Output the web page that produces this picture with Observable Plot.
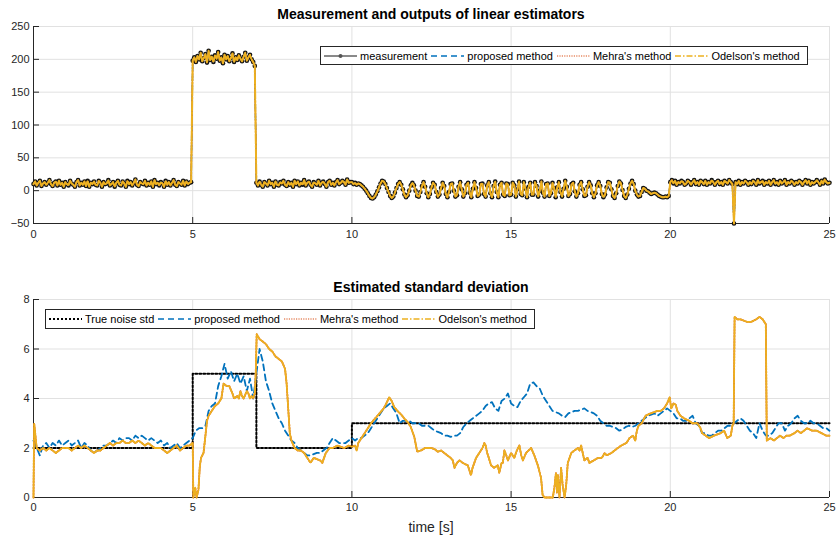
<!DOCTYPE html>
<html><head><meta charset="utf-8">
<script src="https://cdn.jsdelivr.net/npm/d3@7"></script>
<script src="https://cdn.jsdelivr.net/npm/@observablehq/plot@0.6"></script>
<style>
body{margin:0;background:#fff;font-family:"Liberation Sans",Arial,Helvetica,sans-serif;}
#wrap{position:relative;width:836px;height:535px;overflow:hidden;background:#fff;}
.panel{position:absolute;left:0;}
.title{position:absolute;left:33px;width:796px;text-align:center;font-weight:bold;font-size:14px;color:#000;line-height:16px;}
.xlabel{position:absolute;left:33px;width:796px;text-align:center;font-size:14px;color:#262626;line-height:16px;}
.legend{position:absolute;display:flex;align-items:center;border:1px solid #262626;background:#fff;font-size:11px;color:#000;padding:0 4px 0 2px;box-sizing:border-box;white-space:nowrap;}
.legend svg{display:block;margin-right:2px;}
.legend span{margin-right:3px;}
</style></head><body><div id="wrap"></div>
<script>
// ---------------- DATA ----------------
// top panel: measurement sampled every 0.05 s from 0 to 25 s
const measurementStep = 0.05;
const measurement = [
10,14,8,12,15,7,11,13,9,12,
16,10,7,12,14,8,15,9,12,6,
13,10,8,15,11,9,6,13,16,8,
12,9,14,7,15,6,12,10,14,9,
8,15,12,6,13,10,11,16,8,10,
13,6,12,15,9,8,14,11,6,15,
10,13,8,12,17,9,7,13,11,10,
15,8,12,9,14,6,16,10,12,8,
13,11,6,15,9,13,8,12,16,9,
7,13,11,9,15,8,14,10,12,13,
198,203,196,205,200,210,197,202,208,195,
213,199,204,196,206,201,211,198,203,194,
207,200,205,197,202,209,196,203,199,206,
201,197,204,210,198,203,207,200,196,190,
12,8,14,9,6,13,11,8,15,10,
12,6,14,9,8,13,11,15,9,7,
13,9,12,6,15,10,14,8,12,9,
16,8,12,14,9,6,13,11,9,15,
8,12,14,10,6,13,15,9,12,8,
13,16,10,12,15,13,9,17,12,13,
13,10,12,9,11,10,8,6,3,0,
-4,-8,-11,-12,-10,-6,-1,5,11,15,
14,10,4,-2,-8,-11,-9,-3,4,10,
13,9,2,-6,-10,-7,0,8,12,8,
0,-8,-9,-2,7,13,6,-4,-10,-5,
5,12,9,-2,-9,-6,4,12,7,-5,
-10,-2,10,11,0,-9,-7,6,13,2,
-9,-4,9,12,-3,-10,3,13,4,-8,
-6,10,11,-5,-9,8,13,-4,-10,7,
14,-2,-10,9,12,-6,-8,11,10,-7,
-6,12,8,-9,2,14,-5,-7,13,3,
-10,6,12,-6,-6,13,7,-9,0,14,
-3,-9,10,11,-8,-4,12,4,-10,5,
13,-2,-9,3,15,6,-8,-5,10,12,
-1,-9,-4,9,13,2,-8,-7,6,13,
8,-4,-10,-4,8,13,7,-5,-10,-6,
5,13,12,2,-8,-11,-4,7,14,11,
1,-8,-11,-6,3,11,15,10,0,-6,
-9,-8,-2,4,3,0,-1,-3,-5,-4,
-3,-4,-6,-8,-9,-10,-10,-9,-10,-8,
13,16,11,15,9,13,11,15,13,9,
11,15,13,9,13,16,10,13,9,15,
13,10,15,9,13,11,16,13,9,13,
15,10,13,9,15,13,11,16,13,10,
-50,13,10,15,9,13,11,15,13,9,
13,10,15,13,9,16,11,13,15,9,
13,11,15,9,13,16,10,13,9,15,
11,13,16,9,13,11,15,13,9,13,
11,15,13,9,13,16,11,15,9,13,
11,13,16,13,9,15,11,17,13,11,
12
];
// estimator outputs overlap the measurement in the picture
const proposedOutput = measurement;
const mehraOutput = measurement;
const odelsonOutput = measurement;

// bottom panel
const trueStdTime = [0, 5, 7, 10, 25];
const trueStd = [2, 5, 2, 3, 3];

// proposed method estimate, every 0.1 s from 0 to 25 s
const proposedStep = 0.1;
const proposedStd = [
2.3,2.0,1.7,2.1,2.2,2.0,2.2,2.1,2.3,2.1,
2.2,2.3,2.1,2.2,2.3,2.0,2.2,2.1,1.9,1.8,
1.9,2.0,2.1,2.1,2.2,2.3,2.2,2.4,2.3,2.4,
2.4,2.3,2.5,2.4,2.5,2.4,2.3,2.4,2.3,2.2,
2.3,2.1,2.2,2.0,2.1,2.2,2.0,2.1,2.2,2.3,
2.4,2.7,2.8,2.8,2.9,3.5,3.7,3.8,4.5,4.9,
5.4,4.8,5.1,4.7,5.0,4.6,4.9,4.3,4.8,4.0,
5.0,6.0,5.5,4.7,4.3,3.8,3.5,3.2,3.0,2.7,
2.5,2.3,2.2,2.0,1.9,1.8,1.7,1.7,1.75,1.8,
1.8,1.9,2.0,2.2,2.4,2.3,2.2,2.2,2.2,2.3,
2.4,2.3,2.4,2.4,2.5,2.6,2.8,3.0,3.2,3.4,
3.6,3.7,3.8,3.6,3.4,3.0,3.1,3.1,3.1,3.0,
3.0,3.0,2.9,2.9,2.9,2.8,2.7,2.65,2.6,2.5,
2.5,2.45,2.5,2.5,2.6,2.85,3.0,3.1,3.2,3.3,
3.4,3.5,3.7,3.8,3.85,3.6,3.5,3.9,4.0,4.2,
3.8,3.7,3.65,3.9,4.05,4.2,4.6,4.65,4.5,4.4,
4.1,3.9,3.7,3.5,3.45,3.4,3.3,3.25,3.4,3.45,
3.5,3.5,3.55,3.6,3.5,3.45,3.4,3.3,3.1,3.0,
2.9,2.9,2.85,2.8,2.7,2.75,2.85,2.9,2.85,2.9,
3.0,3.1,3.2,3.3,3.35,3.4,3.3,3.4,3.5,3.6,
3.5,3.4,3.2,3.2,3.1,3.1,3.2,3.3,3.0,2.9,
2.6,2.6,2.5,2.5,2.6,2.7,2.7,2.8,2.9,2.9,
3.0,3.1,3.2,3.1,2.9,2.7,2.6,2.4,3.0,2.7,
2.5,2.5,2.6,2.8,3.0,3.0,2.7,2.9,3.0,3.2,
3.3,3.1,3.0,3.0,3.1,3.0,3.0,2.9,2.8,2.8,
2.7
];

// Odelson's method estimate [time, value]
const odelsonStd = [
[0,0],[0.02,3.0],[0.1,2.0],[0.2,1.9],[0.3,2.0],[0.4,1.9],[0.5,2.0],[0.6,1.9],[0.7,1.8],[0.8,1.9],[0.9,2.0],
[1.0,2.0],[1.1,2.0],[1.2,1.9],[1.3,2.0],[1.4,2.1],[1.5,2.0],[1.6,2.1],[1.7,2.0],[1.8,1.9],[1.9,1.8],
[2.0,1.9],[2.1,1.9],[2.2,2.0],[2.3,2.1],[2.4,2.2],[2.5,2.1],[2.6,2.2],[2.7,2.2],[2.8,2.3],[2.9,2.2],
[3.0,2.2],[3.1,2.3],[3.2,2.2],[3.3,2.3],[3.4,2.2],[3.5,2.1],[3.6,2.2],[3.7,2.1],[3.8,2.0],[3.9,2.0],
[4.0,2.0],[4.1,1.9],[4.2,1.8],[4.3,1.9],[4.4,2.0],[4.5,2.1],[4.6,1.9],[4.7,2.0],[4.8,2.1],[4.9,2.1],
[5.0,2.2],[5.02,0],[5.08,0.4],[5.12,0],[5.18,0.3],[5.22,1.2],[5.26,1.6],[5.34,1.8],[5.4,2.5],[5.45,3.1],
[5.5,3.3],[5.6,3.5],[5.7,3.7],[5.8,3.8],[5.9,4.0],[5.97,4.6],[6.07,4.5],[6.15,4.5],[6.25,4.2],[6.3,4.0],
[6.4,4.1],[6.45,4.0],[6.5,4.3],[6.55,4.1],[6.6,4.0],[6.7,4.3],[6.75,4.2],[6.8,4.0],[6.85,4.1],[6.9,4.0],
[6.95,4.2],[6.98,5.0],[7.01,6.6],[7.1,6.4],[7.2,6.3],[7.3,6.2],[7.4,6.0],[7.5,5.9],[7.6,5.7],[7.7,5.6],
[7.8,5.5],[7.9,5.2],[7.95,4.6],[8.0,3.6],[8.05,2.6],[8.1,2.3],[8.2,2.0],[8.3,1.9],[8.4,1.9],[8.5,1.8],
[8.6,1.6],[8.7,1.4],[8.8,1.6],[8.9,1.55],[9.0,1.5],[9.07,1.4],[9.18,1.8],[9.3,2.0],[9.4,2.0],[9.55,2.1],
[9.65,2.05],[9.76,2.0],[9.9,2.1],[10.0,2.05],[10.1,2.1],[10.15,1.9],[10.2,2.2],[10.3,2.4],[10.4,2.6],[10.5,2.8],
[10.6,3.0],[10.7,3.15],[10.8,3.3],[10.9,3.45],[11.0,3.6],[11.1,3.85],[11.17,4.05],[11.25,3.9],[11.33,3.65],[11.43,3.5],
[11.55,3.35],[11.64,3.2],[11.75,3.05],[11.85,2.85],[11.96,2.45],[12.05,1.85],[12.17,1.9],[12.3,2.0],[12.4,2.0],[12.5,2.0],
[12.6,1.95],[12.7,1.85],[12.8,1.9],[12.9,1.8],[13.0,1.7],[13.1,1.6],[13.17,1.5],[13.22,1.2],[13.3,1.4],[13.38,1.5],
[13.48,1.4],[13.55,1.35],[13.64,1.3],[13.74,0.9],[13.79,1.2],[13.9,1.6],[14.0,1.8],[14.1,2.0],[14.16,2.2],[14.2,2.1],
[14.25,1.8],[14.3,1.6],[14.37,1.3],[14.47,1.2],[14.58,1.3],[14.63,1.0],[14.7,1.4],[14.74,1.4],[14.79,1.9],[14.85,1.7],
[14.9,1.5],[15.0,1.8],[15.1,1.6],[15.18,1.9],[15.26,2.1],[15.32,1.7],[15.37,1.5],[15.47,1.8],[15.55,1.9],[15.63,2.0],
[15.73,1.7],[15.84,1.3],[15.94,0.8],[15.99,0.1],[16.05,0],[16.15,0],[16.31,0],[16.36,0.4],[16.41,1.0],[16.44,0.2],
[16.47,0.9],[16.52,0],[16.57,1.2],[16.62,0.5],[16.68,0],[16.73,0.5],[16.78,1.4],[16.89,1.8],[16.99,1.9],[17.1,2.0],
[17.15,1.9],[17.2,2.1],[17.25,1.8],[17.3,1.5],[17.4,1.6],[17.46,1.4],[17.6,1.5],[17.73,1.6],[17.85,1.6],[17.94,1.8],
[18.0,1.7],[18.15,1.8],[18.25,1.9],[18.35,2.0],[18.46,2.1],[18.62,2.2],[18.72,2.4],[18.83,2.5],[18.9,2.3],[18.95,2.7],
[19.0,2.9],[19.1,3.0],[19.22,3.3],[19.38,3.4],[19.5,3.45],[19.59,3.5],[19.7,3.5],[19.8,3.6],[19.9,3.8],[19.98,4.05],
[20.03,3.6],[20.1,3.8],[20.17,3.75],[20.22,3.5],[20.32,3.3],[20.43,3.2],[20.59,3.1],[20.69,3.0],[20.85,3.0],[20.95,2.8],
[21.0,2.6],[21.11,2.5],[21.22,2.4],[21.37,2.5],[21.58,2.6],[21.69,2.7],[21.79,2.4],[21.9,2.5],[21.95,2.9],[21.99,3.0],
[22.02,7.3],[22.1,7.2],[22.2,7.2],[22.4,7.1],[22.55,7.1],[22.7,7.2],[22.8,7.3],[22.9,7.2],[23.0,7.0],[23.03,2.3],
[23.15,2.4],[23.25,2.3],[23.35,2.4],[23.45,2.5],[23.55,2.4],[23.65,2.5],[23.75,2.5],[23.9,2.6],[24.0,2.7],[24.1,2.6],
[24.3,2.8],[24.45,2.7],[24.6,2.7],[24.75,2.6],[24.9,2.5],[25.0,2.5]
];
// Mehra's method coincides with Odelson's in the picture
const mehraStd = odelsonStd;

// ticks, labels
const xTicks = [0, 5, 10, 15, 20, 25];
const yTicksTop = [-50, 0, 50, 100, 150, 200, 250];
const yTicksBottom = [0, 2, 4, 6, 8];
const titleTop = "Measurement and outputs of linear estimators";
const titleBottom = "Estimated standard deviation";
const xLabel = "time [s]";
const legendTop = ["measurement", "proposed method", "Mehra's method", "Odelson's method"];
const legendBottom = ["True noise std", "proposed method", "Mehra's method", "Odelson's method"];

// ---------------- STYLES ----------------
const C = {meas: "#141414", prop: "#0072bd", mehra: "#d95319", odel: "#edb120", axis: "#262626", grid: "#e1e1e1"};
const font = '"Liberation Sans", Arial, Helvetica, sans-serif';

// ---------------- BUILD ----------------
const topRows = measurement.map((m, i) => ({t: i * measurementStep, m, p: proposedOutput[i], r: mehraOutput[i], o: odelsonOutput[i]}));
const propRows = proposedStd.map((v, i) => ({t: i * proposedStep, v}));
const odelRows = odelsonStd.map(([t, v]) => ({t, v}));
const mehraRows = mehraStd.map(([t, v]) => ({t, v}));
const trueRows = trueStdTime.map((t, i) => ({t, v: trueStd[i]}));

const W = 836, ML = 33, MR = 7;
function frameMarks(yTicks, yMin, plotH) {
  const plotW = W - ML - MR;
  return [
    Plot.gridX(xTicks, {stroke: C.grid, strokeOpacity: 1}),
    Plot.gridY(yTicks, {stroke: C.grid, strokeOpacity: 1}),
    Plot.tickY(yTicks, {y: d => d, stroke: C.axis, insetRight: plotW - 6}),
    Plot.tickX(xTicks, {x: d => d, stroke: C.axis, insetTop: plotH - 6}),
    Plot.ruleX([0], {stroke: C.axis}),
    Plot.ruleY([yMin], {stroke: C.axis}),
  ];
}
const baseStyle = {fontFamily: font, fontSize: "11px", color: C.axis, background: "white", overflow: "visible"};

const topH = 245, topMT = 26, topMB = 22;
const topPlot = Plot.plot({
  width: W, height: topH, marginLeft: ML, marginRight: MR, marginTop: topMT, marginBottom: topMB,
  style: baseStyle,
  x: {domain: [0, 25]},
  y: {domain: [-50, 250]},
  marks: [
    ...frameMarks(yTicksTop, -50, topH - topMT - topMB),
    Plot.axisX(xTicks, {tickSize: 0, tickPadding: 7, label: null}),
    Plot.axisY(yTicksTop, {tickSize: 0, tickPadding: 4, label: null}),
    Plot.line(topRows, {x: "t", y: "m", stroke: C.meas, strokeWidth: 0.8}),
    Plot.dot(topRows, {x: "t", y: "m", r: 2.3, fill: C.meas, stroke: null}),
    Plot.line(topRows, {x: "t", y: "p", stroke: C.prop, strokeWidth: 1.5, strokeDasharray: "6,4"}),
    Plot.line(topRows, {x: "t", y: "r", stroke: C.mehra, strokeWidth: 1.5, strokeDasharray: "1.5,1.5"}),
    Plot.line(topRows, {x: "t", y: "o", stroke: C.odel, strokeWidth: 2, strokeDasharray: "10,1.5,2,1.5"})
  ]
});

const botTop = 270, botH = 265, botMT = 29, botMB = 38;
const botPlot = Plot.plot({
  width: W, height: botH, marginLeft: ML, marginRight: MR, marginTop: botMT, marginBottom: botMB,
  style: baseStyle,
  x: {domain: [0, 25]},
  y: {domain: [0, 8]},
  marks: [
    ...frameMarks(yTicksBottom, 0, botH - botMT - botMB),
    Plot.axisX(xTicks, {tickSize: 0, tickPadding: 6, label: null}),
    Plot.axisY(yTicksBottom, {tickSize: 0, tickPadding: 4, label: null}),
    Plot.line(trueRows, {x: "t", y: "v", curve: "step-after", stroke: "#000", strokeWidth: 2, strokeDasharray: "2,2"}),
    Plot.line(propRows, {x: "t", y: "v", stroke: C.prop, strokeWidth: 1.8, strokeDasharray: "6,4"}),
    Plot.line(mehraRows, {x: "t", y: "v", stroke: C.mehra, strokeWidth: 1.8, strokeDasharray: "1.5,1.5"}),
    Plot.line(odelRows, {x: "t", y: "v", stroke: C.odel, strokeWidth: 1.8, strokeDasharray: "10,1.5,2,1.5"})
  ]
});

const wrap = document.getElementById("wrap");
function place(el, top) { el.classList.add("panel"); el.style.top = top + "px"; wrap.appendChild(el); }
place(topPlot, 0);
place(botPlot, botTop);

function div(cls, text, top) {
  const d = document.createElement("div"); d.className = cls; d.textContent = text; d.style.top = top + "px"; wrap.appendChild(d); return d;
}
div("title", titleTop, 6);
div("title", titleBottom, 279);
div("xlabel", xLabel, 519);

const NS = "http://www.w3.org/2000/svg";
function swatch(kind) {
  const s = document.createElementNS(NS, "svg");
  s.setAttribute("width", 35); s.setAttribute("height", 10);
  const l = document.createElementNS(NS, "line");
  l.setAttribute("x1", 1); l.setAttribute("x2", 34); l.setAttribute("y1", 5); l.setAttribute("y2", 5);
  const st = {
    meas: [C.meas, 1, null], prop: [C.prop, 1.5, "6,4"], mehra: [C.mehra, 1.2, "1.2,1.2"],
    odel: [C.odel, 1.5, "6,2,1.5,2"], tru: ["#000", 2, "2,2"]
  }[kind];
  l.setAttribute("stroke", st[0]); l.setAttribute("stroke-width", st[1]);
  if (st[2]) l.setAttribute("stroke-dasharray", st[2]);
  s.appendChild(l);
  if (kind === "meas") {
    const c = document.createElementNS(NS, "circle");
    c.setAttribute("cx", 17.5); c.setAttribute("cy", 5); c.setAttribute("r", 2); c.setAttribute("fill", "#555");
    s.appendChild(c);
  }
  return s;
}
function legend(labels, kinds, left, top, height) {
  const box = document.createElement("div");
  box.className = "legend";
  box.style.left = left + "px"; box.style.top = top + "px"; box.style.height = height + "px";
  labels.forEach((lab, i) => {
    box.appendChild(swatch(kinds[i]));
    const sp = document.createElement("span"); sp.textContent = lab; box.appendChild(sp);
  });
  wrap.appendChild(box);
}
legend(legendTop, ["meas", "prop", "mehra", "odel"], 320, 46, 19);
legend(legendBottom, ["tru", "prop", "mehra", "odel"], 45, 309, 20);
</script></body></html>
